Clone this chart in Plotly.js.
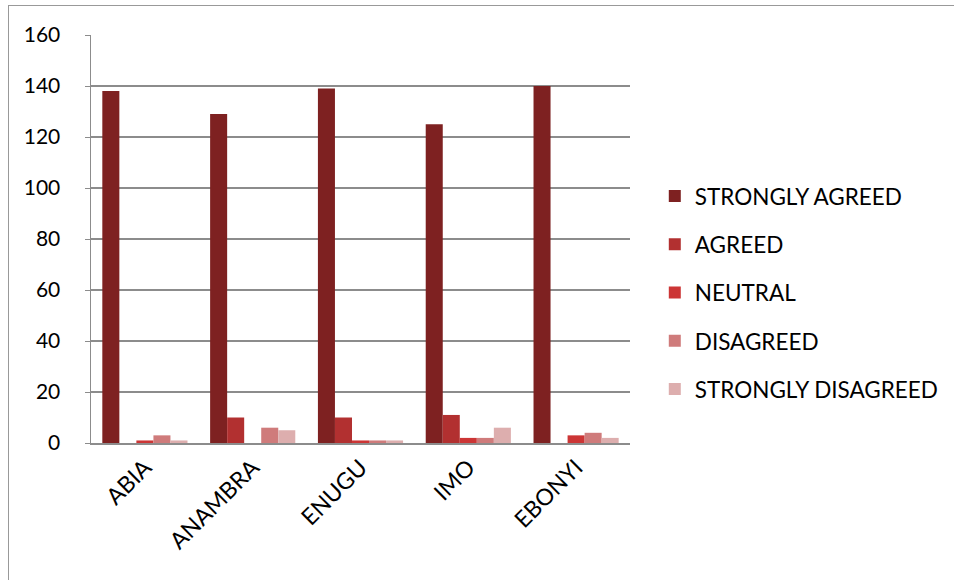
<!DOCTYPE html>
<html>
<head>
<meta charset="utf-8">
<script src="https://cdn.plot.ly/plotly-3.0.1.min.js"></script>
<style>
  html, body { margin: 0; padding: 0; background: #fff; }
  #wrap { position: relative; width: 954px; height: 580px; }
  #frame { position: absolute; left: 8px; top: 5px; width: 960px; height: 600px;
           border-left: 1.5px solid #999; border-top: 1.5px solid #999; pointer-events: none; }
  #chart { position: absolute; left: 0; top: 0; width: 954px; height: 580px; }
</style>
</head>
<body>
<div id="wrap">
  <div id="chart"></div>
  <div id="frame"></div>
</div>
<script>
const categories = ["ABIA", "ANAMBRA", "ENUGU", "IMO", "EBONYI"];
const stronglyAgreed = [138, 129, 139, 125, 140];
const agreed = [0, 10, 10, 11, 0];
const neutral = [1, 0, 1, 2, 3];
const disagreed = [3, 6, 1, 2, 4];
const stronglyDisagreed = [1, 5, 1, 6, 2];
const seriesNames = ["STRONGLY AGREED", "AGREED", "NEUTRAL", "DISAGREED", "STRONGLY DISAGREED"];
const seriesColors = ["#7E2121", "#B23030", "#CC3535", "#CF7B7B", "#DDAEAE"];
const yTicks = [0, 20, 40, 60, 80, 100, 120, 140, 160];

const seriesValues = [stronglyAgreed, agreed, neutral, disagreed, stronglyDisagreed];
const traces = seriesValues.map((vals, i) => ({
  type: "bar",
  x: categories,
  y: vals,
  name: seriesNames[i],
  legendgroup: "g" + i,
  marker: { color: seriesColors[i], line: { width: 0 } },
  hoverinfo: "none"
}));

const font = "Lato, 'Open Sans', 'Liberation Sans', sans-serif";
const layout = {
  width: 954,
  height: 580,
  margin: { l: 91, r: 324, t: 35, b: 137, autoexpand: false },
  paper_bgcolor: "#fff",
  plot_bgcolor: "#fff",
  barmode: "group",
  bargap: 0.21,
  bargroupgap: 0,
  font: { family: font, color: "#000" },
  xaxis: {
    type: "category",
    tickangle: -45,
    tickfont: { size: 23, family: font, color: "#000" },
    showline: true,
    linecolor: "#8c8c8c",
    linewidth: 2,
    ticks: "",
    showgrid: false,
    zeroline: false
  },
  yaxis: {
    range: [0, 160],
    tickvals: yTicks,
    ticktext: yTicks.map(String),
    tickfont: { size: 21, family: font, color: "#000" },
    showline: true,
    linecolor: "#8c8c8c",
    linewidth: 1.5,
    ticks: "outside",
    ticklen: 5,
    tickcolor: "#8c8c8c",
    ticklabelstandoff: 20,
    showgrid: true,
    gridcolor: "#8c8c8c",
    gridwidth: 2,
    zeroline: false
  },
  legend: {
    x: 1.046,
    xanchor: "left",
    y: 0.368,
    yanchor: "middle",
    font: { size: 22.5, family: font, color: "#000" },
    tracegroupgap: 16,
    itemwidth: 30
  },
  showlegend: true
};

Plotly.newPlot("chart", traces, layout, { staticPlot: true, displayModeBar: false });
</script>
</body>
</html>
